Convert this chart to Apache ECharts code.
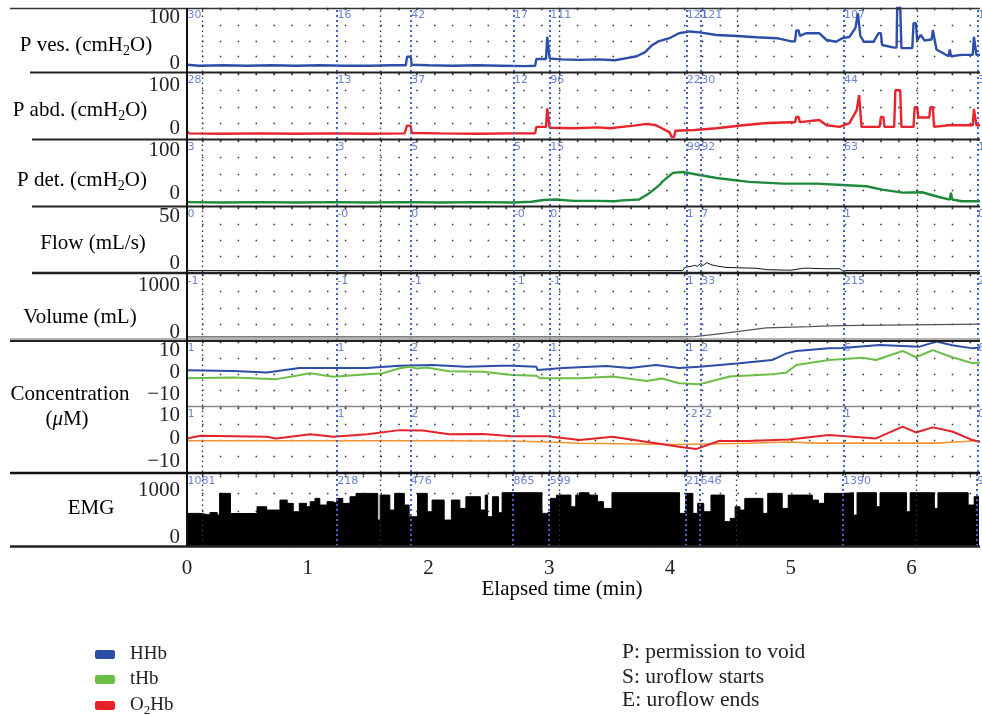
<!DOCTYPE html>
<html>
<head>
<meta charset="utf-8">
<script src="https://cdn.jsdelivr.net/npm/echarts@6/dist/echarts.min.js"></script>
<style>
  html, body { margin: 0; background: #fff; }
  #chart { width: 982px; height: 715px; }
</style>
</head>
<body>
<div id="chart"></div>
<script>
// ---- data (time in min) ----
const eventTimes = [0, 1.24, 1.85, 2.70, 3.00, 4.13, 4.25, 5.43, 6.54];
const gridColumns = [0.125, 1.605, 3.08, 4.555, 6.035];

const evPVes = ['30', '16', '42', '17', '111', '121', '121', '107', '1'];
const evPAbd = ['28', '13', '37', '12', '96', '22', '30', '44', '3'];
const evPDet = ['3', '3', '5', '5', '15', '99', '92', '63', '1'];
const evFlow = ['0', '-0', '0', '-0', '0', '1', '7', '1', '0'];
const evVol = ['-1', '-1', '-1', '-1', '-1', '1', '33', '215', '2'];
const evConc1 = ['1', '1', '2', '2', '1', '1', '2', '6', '6'];
const evConc2 = ['1', '1', '2', '1', '1', '-2', '-2', '1', '0'];
const evEmg = ['1081', '218', '476', '865', '599', '21', '646', '1390', '9'];

const pVes = [[0,-4],[0.1,-6],[0.3,-5],[0.5,-6],[0.7,-5],[0.9,-6],[1.1,-5],[1.3,-6],[1.5,-6],[1.7,-5],[1.81,-5],[1.82,14],[1.85,14],[1.86,-4],[2.0,-5],[2.2,-6],[2.4,-5],[2.6,-6],[2.8,-7],[2.88,-6],[2.89,9],[2.97,9],[2.98,58],[2.99,58],[3.0,10],[3.1,8],[3.25,7],[3.4,8],[3.54,6],[3.66,12],[3.72,15],[3.79,24],[3.85,40],[3.9,48],[3.99,55],[4.07,66],[4.16,70],[4.24,68],[4.38,62],[4.55,60],[4.71,57],[4.88,55],[5.0,48],[5.03,48],[5.04,72],[5.06,72],[5.07,60],[5.12,66],[5.23,66],[5.29,51],[5.37,47],[5.42,55],[5.48,58],[5.53,78],[5.55,110],[5.56,110],[5.57,60],[5.6,47],[5.68,47],[5.72,66],[5.74,66],[5.75,40],[5.85,34],[5.87,34],[5.875,125],[5.9,125],[5.91,33],[6.0,33],[6.01,88],[6.03,88],[6.04,50],[6.07,62],[6.1,50],[6.16,52],[6.17,73],[6.18,73],[6.2,30],[6.3,15],[6.31,30],[6.32,15],[6.41,18],[6.5,18],[6.51,58],[6.52,58],[6.53,18],[6.56,18]];

const pAbd = [[0,-8],[0.02,-12],[0.3,-13],[0.6,-12],[0.9,-13],[1.2,-12],[1.5,-13],[1.8,-12],[1.82,6],[1.85,6],[1.86,-11],[2.1,-12],[2.4,-13],[2.7,-12],[2.88,-12],[2.89,3],[2.97,3],[2.98,46],[2.99,46],[3.0,1],[3.2,0],[3.4,2],[3.5,0],[3.6,3],[3.7,6],[3.8,10],[3.88,7],[3.99,-9],[4.0,-9],[4.01,-20],[4.03,-20],[4.04,-6],[4.2,-4],[4.38,0],[4.6,7],[4.8,12],[5.0,14],[5.03,14],[5.04,26],[5.06,26],[5.07,14],[5.23,19],[5.29,7],[5.4,3],[5.48,12],[5.54,42],[5.56,77],[5.57,77],[5.58,3],[5.73,3],[5.74,26],[5.76,26],[5.77,3],[5.85,3],[5.86,88],[5.9,88],[5.91,3],[6.01,3],[6.02,49],[6.04,49],[6.05,25],[6.14,25],[6.15,49],[6.17,49],[6.18,3],[6.3,7],[6.5,7],[6.51,45],[6.52,45],[6.53,7],[6.56,7]];

const pDet = [[0,-19],[0.3,-20],[0.6,-19],[0.9,-20],[1.2,-19],[1.5,-20],[1.8,-19],[2.1,-20],[2.4,-19],[2.7,-20],[2.85,-18],[2.95,-14],[3.05,-13],[3.2,-16],[3.4,-16],[3.54,-17],[3.6,-15],[3.74,-13],[3.83,3],[3.91,21],[3.93,28],[4.02,49],[4.1,51],[4.24,44],[4.38,37],[4.65,28],[4.93,24],[5.21,24],[5.42,21],[5.62,18],[5.75,10],[5.92,3],[6.08,4],[6.22,-7],[6.31,-13],[6.32,3],[6.33,-13],[6.41,-17],[6.56,-17]];

const flow = [[0,-7.5],[4.1,-7.5],[4.12,-4],[4.17,-3],[4.2,-2],[4.22,-3],[4.25,0],[4.27,-2],[4.3,1],[4.33,-1],[4.36,-2],[4.4,-3],[4.45,-4],[4.55,-4.5],[4.7,-5],[4.8,-6.5],[4.95,-7],[5.0,-7],[5.1,-5],[5.15,-5],[5.25,-5.5],[5.4,-5.5],[5.42,-7.5],[6.56,-7.5]];

const volume = [[0,-85],[4.12,-85],[4.2,-78],[4.4,-20],[4.55,24],[4.79,105],[5.15,128],[5.26,140],[5.4,150],[5.41,180],[6.56,180]];

const hhb = [[0,1],[0.38,0.6],[0.66,0],[0.93,2],[1.21,2],[1.49,2],[1.76,3.1],[2.03,3.4],[2.31,2.6],[2.59,3.1],[2.69,3.1],[2.89,2.6],[2.9,1.1],[3.11,2],[3.47,3],[3.66,2],[3.88,3.4],[4.07,2],[4.24,2.6],[4.57,4.2],[4.84,5.7],[4.96,8.8],[5.04,9.9],[5.31,11.1],[5.42,11.3],[5.73,12.6],[6.06,11.9],[6.2,14.2],[6.33,12.5],[6.5,11.1],[6.56,11.5]];

const thb = [[0,-2.7],[0.38,-2.4],[0.74,-3.1],[1.02,-0.4],[1.21,-2],[1.49,-0.9],[1.62,-0.4],[1.76,1.9],[1.84,2.6],[1.9,1.8],[1.98,2.3],[2.17,0.5],[2.45,0.3],[2.69,-1.2],[2.89,-1.5],[2.92,-2.7],[3.25,-2.7],[3.52,-1.9],[3.8,-4],[3.93,-2.8],[4.07,-5],[4.24,-5.5],[4.49,-1.9],[4.84,-0.9],[4.96,0],[5.04,3.4],[5.31,5.7],[5.59,6.8],[5.7,5.7],[5.92,9.9],[6.03,7],[6.17,10.3],[6.33,7],[6.5,4.2],[6.56,4.6]];

const o2hb = [[0,0],[0.11,1.2],[0.66,0.7],[0.74,0],[1.02,1.8],[1.21,0.7],[1.49,1.8],[1.76,3.6],[1.95,3.4],[2.17,1.8],[2.45,1.9],[2.69,1],[2.98,1],[3.25,-0.7],[3.52,0.7],[3.88,-2.1],[4.07,-3.6],[4.21,-4.6],[4.4,-1.1],[4.63,-1.1],[4.98,-0.4],[5.31,1.5],[5.7,0],[5.92,5.1],[6.03,2.6],[6.17,4.8],[6.33,3],[6.5,-0.7],[6.56,-1.5]];

const baseline = [[0,-1],[1.0,-1],[2.0,-1],[2.69,-1.1],[3.0,-1.5],[3.25,-2.1],[3.6,-2.3],[4.07,-2.6],[4.4,-2.3],[4.63,-2.1],[4.98,-1.5],[5.2,-2],[5.6,-2],[6.2,-2],[6.5,-1.1],[6.56,-1]];

const emg = [[0,503],[0.11,470],[0.19,520],[0.25,470],[0.27,928],[0.36,500],[0.58,644],[0.66,574],[0.77,786],[0.83,716],[0.88,538],[0.93,716],[0.99,644],[1.02,751],[1.06,822],[1.1,680],[1.16,751],[1.21,716],[1.24,822],[1.29,716],[1.35,857],[1.4,928],[1.58,361],[1.6,892],[1.68,574],[1.72,928],[1.8,680],[1.84,432],[1.91,928],[1.99,538],[2.03,786],[2.13,361],[2.19,786],[2.26,609],[2.31,857],[2.43,574],[2.47,892],[2.49,432],[2.53,857],[2.58,517],[2.61,942],[2.94,503],[2.98,538],[3.01,822],[3.06,892],[3.18,644],[3.22,892],[3.25,942],[3.33,892],[3.4,751],[3.45,609],[3.52,942],[4.08,503],[4.13,928],[4.19,503],[4.23,716],[4.28,538],[4.34,892],[4.45,326],[4.5,397],[4.54,644],[4.58,574],[4.62,822],[4.77,503],[4.81,928],[4.93,609],[4.98,892],[5.18,786],[5.23,716],[5.28,928],[5.44,942],[5.52,467],[5.55,942],[5.71,644],[5.74,942],[5.96,538],[5.99,942],[6.19,609],[6.22,942],[6.47,680],[6.52,857],[6.56,857]];

// ---- layout ----
const xMax = 6.56;
const serif = '"Liberation Serif", "DejaVu Serif", serif';
const blueEvt = '#4464c6';
const fs = 21;

const panels = [
  { top: 8,   height: 64, min: -20,   max: 122,  step: 20,  shown: [0, 100],   ev: evPVes,
    series: [{ name: 'P ves', data: pVes, color: '#2c4ea8', width: 2.4 }] },
  { top: 73,  height: 66, min: -25,   max: 128,  step: 25,  shown: [0, 100],   ev: evPAbd,
    series: [{ name: 'P abd', data: pAbd, color: '#e8232b', width: 2.4 }] },
  { top: 140, height: 66, min: -28,   max: 125.5, step: 4,  shown: [0, 100],   ev: evPDet,
    series: [{ name: 'P det', data: pDet, color: '#1d8a3a', width: 2.4 }] },
  { top: 207, height: 65, min: -9,    max: 60,   step: 1,   shown: [0, 50],    ev: evFlow,
    series: [{ name: 'Flow', data: flow, color: '#111', width: 1 }] },
  { top: 274, height: 66, min: -150,  max: 1230, step: 10,  shown: [0, 1000],  ev: evVol,
    series: [{ name: 'Volume', data: volume, color: '#555', width: 1.3 }] },
  { top: 341, height: 65, min: -15.5, max: 14.5, step: 0.5, shown: [-10, 0, 10], ev: evConc1,
    series: [{ name: 'HHb', data: hhb, color: '#2c4da6', width: 2 },
             { name: 'tHb', data: thb, color: '#6bbf47', width: 2 }] },
  { top: 407, height: 65, min: -14.5, max: 13.6, step: 0.5, shown: [-10, 0, 10], ev: evConc2,
    series: [{ name: 'Baseline', data: baseline, color: '#f39233', width: 1.6 },
             { name: 'O2Hb', data: o2hb, color: '#e62229', width: 2 }] },
  { top: 474, height: 72, min: -190,  max: 1340, step: 10,  shown: [0, 1000],  ev: evEmg,
    series: [{ name: 'EMG', data: emg, color: '#000', width: 1, area: true }] }
];

const grid = [], xAxis = [], yAxis = [], series = [];
panels.forEach((p, i) => {
  const last = i === panels.length - 1;
  grid.push({ left: 187, right: 2, top: p.top, height: p.height });
  xAxis.push({
    type: 'value', gridIndex: i, min: 0, max: xMax, interval: 1,
    axisLine: { show: false }, axisTick: { show: false }, splitLine: { show: false },
    axisLabel: {
      show: last, margin: 12, fontSize: fs, fontFamily: serif, color: '#222',
      formatter: v => Number.isInteger(v) ? String(v) : ''
    }
  });
  yAxis.push({
    type: 'value', gridIndex: i, min: p.min, max: p.max, interval: p.step,
    axisLine: { show: false }, axisTick: { show: false }, splitLine: { show: false },
    axisLabel: {
      margin: 7, fontSize: fs, fontFamily: serif, color: '#222',
      formatter: v => {
        const r = Math.round(v * 100) / 100;
        if (!p.shown.includes(r)) return '';
        return r < 0 ? '\u2212' + Math.abs(r) : String(r);
      }
    }
  });
  // dotted grid rows
  yAxis.push({
    type: 'value', gridIndex: i, min: 0, max: 4.1, interval: 1, position: 'right',
    axisLine: { show: false }, axisTick: { show: false }, axisLabel: { show: false },
    splitLine: { show: true, lineStyle: { color: '#333', width: 1.3, type: [1.5, 16.35], dashOffset: 2.85 } }
  });
  p.series.forEach(s => {
    series.push({
      name: s.name, type: 'line', xAxisIndex: i, yAxisIndex: 2 * i,
      data: s.data, symbol: 'none', color: s.color, step: s.area ? 'end' : false,
      lineStyle: { color: s.color, width: s.width },
      areaStyle: s.area ? { color: s.color, opacity: 1, origin: 'start' } : undefined,
      z: 3, silent: true
    });
  });
  // event markers: dotted verticals and numeric read-outs
  series.push({
    name: 'ev' + i, type: 'scatter', xAxisIndex: i, yAxisIndex: 2 * i,
    data: eventTimes.map(t => [t, p.max]), symbolSize: 1,
    itemStyle: { color: 'rgba(0,0,0,0)' }, silent: true, z: 6, clip: false,
    label: {
      show: true, position: [1, 2], align: 'left', verticalAlign: 'top',
      fontSize: 11, fontFamily: '"DejaVu Sans", sans-serif', color: blueEvt,
      formatter: prm => p.ev[prm.dataIndex]
    },
    markLine: {
      silent: true, symbol: ['none', 'none'], label: { show: false }, animation: false,
      data: gridColumns.map(t => ({ xAxis: t, lineStyle: { color: '#333', width: 1.3, type: [1.5, 3.5] } }))
        .concat(eventTimes.map(t => ({ xAxis: t, lineStyle: { color: blueEvt, width: 2, type: [2, 3] } })))
    }
  });
});

// frame lines between panels
const sepLines = [
  { y: 8.5, x0: 10, w: 1.5, c: '#333' },
  { y: 72.5, x0: 30, w: 2, c: '#222' },
  { y: 139.5, x0: 32, w: 2, c: '#222' },
  { y: 206.5, x0: 32, w: 2, c: '#222' },
  { y: 273, x0: 32, w: 2.5, c: '#222' },
  { y: 339, x0: 10, w: 1.5, c: '#999' },
  { y: 341, x0: 10, w: 2, c: '#222' },
  { y: 406.5, x0: 187, w: 1.5, c: '#888' },
  { y: 473, x0: 10, w: 2.5, c: '#111' },
  { y: 546.5, x0: 10, w: 2.5, c: '#222' }
];
const graphic = sepLines.map(s => ({
  type: 'line', z: 100, silent: true,
  shape: { x1: s.x0, y1: s.y, x2: 980, y2: s.y },
  style: { stroke: s.c, lineWidth: s.w }
}));
graphic.push({
  type: 'line', z: 100, silent: true,
  shape: { x1: 187, y1: 8, x2: 187, y2: 546 },
  style: { stroke: '#111', lineWidth: 2 }
});

const richBase = {
  a: { fontSize: fs, fontFamily: serif, color: '#222', lineHeight: 26 },
  s: { fontSize: 14, fontFamily: serif, color: '#222', lineHeight: 14, verticalAlign: 'bottom' },
  i: { fontSize: fs, fontFamily: serif, fontStyle: 'italic', color: '#222', lineHeight: 26 }
};
const richLegend = {
  a: { fontSize: 19, fontFamily: serif, color: '#222', lineHeight: 24 },
  s: { fontSize: 13, fontFamily: serif, color: '#222', lineHeight: 13, verticalAlign: 'bottom' }
};
const panelNames = [
  { t: '{a|P ves. (cmH}{s|2}{a|O)}', x: 86, y: 45 },
  { t: '{a|P abd. (cmH}{s|2}{a|O)}', x: 80, y: 110 },
  { t: '{a|P det. (cmH}{s|2}{a|O)}', x: 82, y: 180 },
  { t: '{a|Flow (mL/s)}', x: 93, y: 243 },
  { t: '{a|Volume (mL)}', x: 80, y: 317 },
  { t: '{a|Concentration}', x: 70, y: 394 },
  { t: '{a|(}{i|\u03bc}{a|M)}', x: 67, y: 419 },
  { t: '{a|EMG}', x: 91, y: 508 },
  { t: '{a|Elapsed time (min)}', x: 562, y: 589 }
];
panelNames.forEach(n => graphic.push({
  type: 'text', z: 100, silent: true, x: n.x, y: n.y,
  style: { text: n.t, rich: richBase, align: 'center', verticalAlign: 'middle' }
}));
const notes = [
  { t: 'P: permission to void', y: 652 },
  { t: 'S: uroflow starts', y: 677 },
  { t: 'E: uroflow ends', y: 700 }
];
notes.forEach(n => graphic.push({
  type: 'text', z: 100, silent: true, x: 622, y: n.y,
  style: { text: n.t, fill: '#222', font: '21.5px ' + serif, align: 'left', verticalAlign: 'middle' }
}));

// legend: one component per entry so the column keeps the figure's spacing
const legendNames = ['HHb', 'tHb', 'O2Hb'];
const legendTops = [640, 665, 691];
const legend = legendNames.map((nm, k) => ({
  data: [nm], left: 90, top: legendTops[k],
  icon: 'roundRect', itemWidth: 20, itemHeight: 9,
  selectedMode: false,
  formatter: name => name === 'O2Hb' ? '{a|O}{s|2}{a|Hb}' : '{a|' + name + '}',
  textStyle: { padding: [0, 0, 0, 10], rich: richLegend }
}));

const chart = echarts.init(document.getElementById('chart'));
chart.setOption({
  animation: false,
  backgroundColor: '#fff',
  grid, xAxis, yAxis, series, graphic, legend
});
</script>
</body>
</html>
